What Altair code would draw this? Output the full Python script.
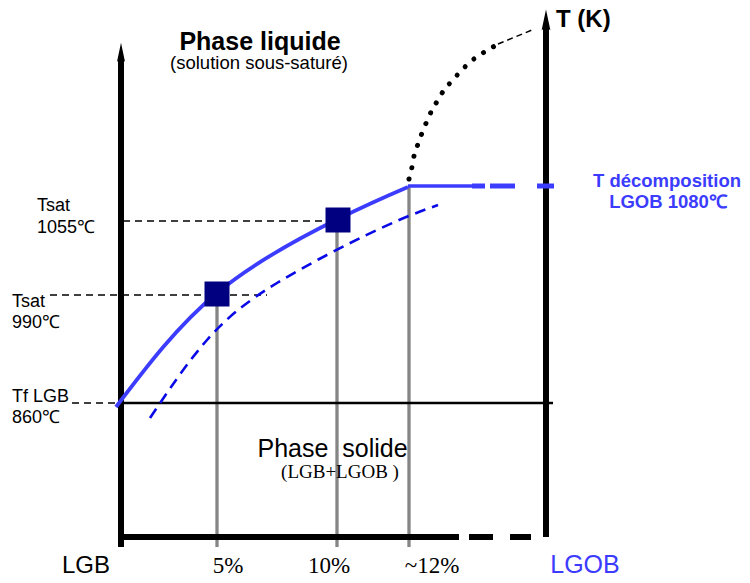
import altair as alt
import pandas as pd

# Schematic coordinates
# (x: composition position along the LGB -> LGOB axis, y: temperature position, top = hot)
liq_x = [116, 217, 338, 408]
liq_y = [407, 293, 219, 187]

sol_x = [150, 207, 277, 377, 438]
sol_y = [418, 340, 283, 230, 205]

dot_x = [409, 412, 414, 418, 422, 427, 432, 438, 444, 452, 460, 469, 478, 488, 498]
dot_y = [179, 167, 156, 144, 133, 121, 110, 100, 90, 81, 72, 63, 56, 50, 44]

tail_x = [498, 532]
tail_y = [44, 30]

# composition markers (5 %, 10 %, ~12 %)
comp_x = [217, 337, 409]
comp_top = [293, 219, 187]
comp_labels = ["5%", "10%", "~12%"]
comp_label_x = [228, 329, 432]

# saturation points
sat_x = [217, 338]
sat_y = [294, 220]

# temperature reference lines (dashed)
tref_y = [221, 295, 403]
tref_x1 = [123, 50, 72]
tref_x2 = [338, 267, 120]

# decomposition plateau
plat_y = 186
plat_dash_x1 = [472, 490, 537]
plat_dash_x2 = [485, 515, 554]

# axes
left_axis_x, left_axis_y1, left_axis_y2 = 121, 547, 58
right_axis_x, right_axis_y1, right_axis_y2 = 546, 537, 26
bottom_y = 537
bottom_solid = (118, 459)
bottom_dash_x1 = [469, 510]
bottom_dash_x2 = [493, 531]
solidus_y, solidus_x1, solidus_x2 = 403, 120, 553

X = alt.X("x:Q", scale=alt.Scale(domain=[8, 742], nice=False, zero=False), axis=None)
Y = alt.Y("y:Q", scale=alt.Scale(domain=[8, 575], reverse=True, nice=False, zero=False), axis=None)

BLUE = "#3c3cff"
DBLUE = "#0a0ae6"
GRAY = "#858585"

layers = []


def rules_h(xs1, xs2, ys, color, width, dash=None):
    df = pd.DataFrame({"x": xs1, "x2": xs2, "y": ys})
    kw = dict(color=color, strokeWidth=width)
    if dash:
        kw["strokeDash"] = dash
    return alt.Chart(df).mark_rule(**kw).encode(x=X, x2="x2:Q", y=Y)


def rules_v(xs, ys1, ys2, color, width, dash=None):
    df = pd.DataFrame({"x": xs, "y": ys1, "y2": ys2})
    kw = dict(color=color, strokeWidth=width)
    if dash:
        kw["strokeDash"] = dash
    return alt.Chart(df).mark_rule(**kw).encode(x=X, y=Y, y2="y2:Q")


def curve(xs, ys, color, width, dash=None, cap="butt", interp="natural"):
    df = pd.DataFrame({"x": xs, "y": ys})
    kw = dict(color=color, strokeWidth=width, interpolate=interp, strokeCap=cap)
    if dash:
        kw["strokeDash"] = dash
    return alt.Chart(df).mark_line(**kw).encode(x=X, y=Y)


def text(xs, ys, labels, size, align="left", weight="normal", color="black", font="Liberation Sans"):
    df = pd.DataFrame({"x": xs, "y": ys, "t": labels})
    return alt.Chart(df).mark_text(
        align=align, baseline="alphabetic", fontSize=size, fontWeight=weight,
        color=color, font=font
    ).encode(x=X, y=Y, text="t:N")


# gray composition verticals
layers.append(rules_v(comp_x, [547] * 3, comp_top, GRAY, 3.3))
# dashed temperature references
layers.append(rules_h(tref_x1, tref_x2, tref_y, "black", 1.6, [7, 5]))
# solidus line
layers.append(rules_h([solidus_x1], [solidus_x2], [solidus_y], "black", 2.5))
# axes
layers.append(rules_v([left_axis_x], [left_axis_y1], [left_axis_y2], "black", 6))
layers.append(rules_v([right_axis_x], [right_axis_y1], [right_axis_y2], "black", 6))
layers.append(rules_h([bottom_solid[0]], [bottom_solid[1]], [bottom_y], "black", 6))
layers.append(rules_h(bottom_dash_x1, bottom_dash_x2, [bottom_y] * 2, "black", 6))
# arrow heads
arrow = "M0,-1L0.4,0.9L0,0.6L-0.4,0.9Z"
layers.append(
    alt.Chart(pd.DataFrame({"x": [left_axis_x], "y": [52.7]}))
    .mark_point(shape=arrow, size=400, filled=True, color="black", opacity=1, strokeWidth=0)
    .encode(x=X, y=Y)
)
layers.append(
    alt.Chart(pd.DataFrame({"x": [right_axis_x], "y": [20.5]}))
    .mark_point(shape=arrow, size=480, filled=True, color="black", opacity=1, strokeWidth=0)
    .encode(x=X, y=Y)
)
# curves
layers.append(curve(sol_x, sol_y, DBLUE, 2.6, [11, 7]))
layers.append(curve(liq_x, liq_y, BLUE, 3.8))
layers.append(rules_h([408], [472], [plat_y], BLUE, 3.5))
layers.append(rules_h(plat_dash_x1, plat_dash_x2, [plat_y] * 3, BLUE, 5))
layers.append(curve(dot_x, dot_y, "black", 5, [0.01, 11.6], cap="round", interp="monotone"))
layers.append(curve(tail_x, tail_y, "black", 1.5, [6, 4], interp="linear"))
# saturation squares
layers.append(
    alt.Chart(pd.DataFrame({"x": sat_x, "y": sat_y}))
    .mark_square(size=625, color="#000080", opacity=1)
    .encode(x=X, y=Y)
)

# texts
layers.append(text([260], [50], ["Phase liquide"], 25, "center", "bold"))
layers.append(text([259], [69], ["(solution sous-saturé)"], 18.5, "center"))
layers.append(text([37, 37, 12, 12, 12, 12], [211, 233, 307, 328, 402, 423],
                   ["Tsat", "1055℃", "Tsat", "990℃", "Tf LGB", "860℃"], 18))
layers.append(text([667, 668], [187, 208], ["T décomposition", "LGOB 1080℃"], 18.5, "center", "bold", BLUE))
layers.append(text([556], [27], ["T (K)"], 24, "left", "bold"))
layers.append(text([332.5], [457], ["Phase\u00a0\u00a0solide"], 25, "center"))
layers.append(text([340], [478], ["(LGB+LGOB )"], 19, "center", font="Liberation Serif"))
layers.append(text([86], [573], ["LGB"], 24, "center"))
layers.append(text([585], [573], ["LGOB"], 25, "center", color=BLUE))
layers.append(text(comp_label_x, [573] * 3, comp_labels, 23, "center", font="Liberation Serif"))

chart = alt.layer(*layers).properties(
    width=734, height=567, autosize="none", padding=0
).configure_view(stroke=None)

chart.save("out.html", embed_options={"renderer": "svg", "actions": False})
